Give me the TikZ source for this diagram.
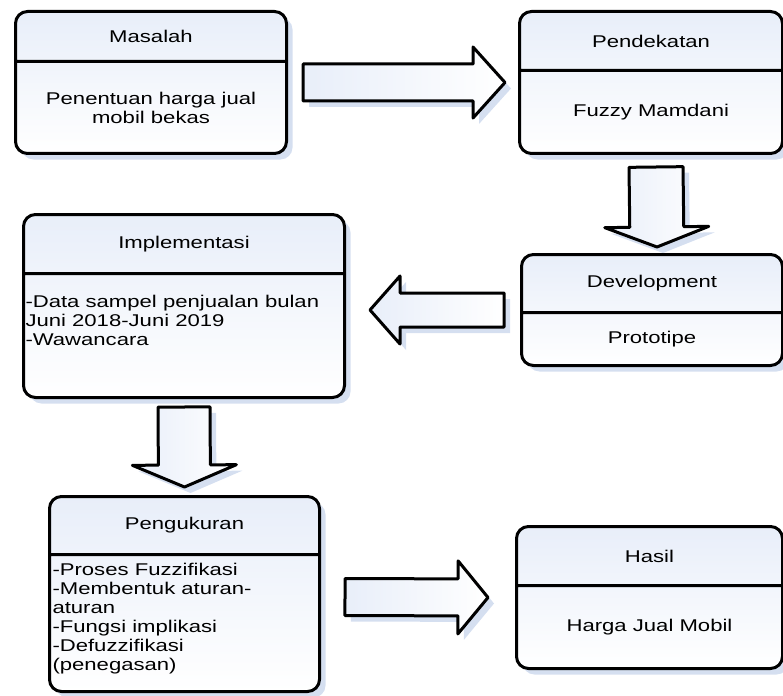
\documentclass[tikz,border=0pt]{standalone}
\usepackage{fontspec}
\setmainfont{Liberation Sans}[FakeStretch=1.3]
\usetikzlibrary{positioning,calc,shapes.multipart,shadows}
\definecolor{boxclr}{RGB}{232,238,249}
\definecolor{shdclr}{RGB}{213,223,240}
\tikzset{ %
  ,every node/.style={font=\fontsize{17}{19}\selectfont}
  ,box/.style={draw, rectangle split, rectangle split parts=2, rounded corners=12pt, inner sep=0pt, line width=3pt, top color=boxclr, bottom color=white, anchor=north west, drop shadow={shadow xshift=6pt, shadow yshift=-6pt, fill=shdclr, fill opacity=1}}
  ,blockarr/.style={draw, line width=3pt, line join=round, left color=boxclr, right color=white, drop shadow={shadow xshift=6pt, shadow yshift=-6pt, fill=shdclr, fill opacity=1}}
}
% width, head height, body height, head, body
\newcommand{\boxparts}[5]{\parbox[c][#2pt]{#1pt}{\centering #4\par}\nodepart{two}\parbox[c][#3pt]{#1pt}{#5}}
% tail, tip, half shaft, half head, head length
\newcommand{\blockarrow}[5]{%
  \coordinate (neck) at ($(#2)!#5!(#1)$);
  \draw[blockarr] ($(#1)!#3!90:(#2)$) -- ($(neck)!#3!90:(#2)$) -- ($(neck)!#4!90:(#2)$) -- (#2)
    -- ($(neck)!#4!-90:(#2)$) -- ($(neck)!#3!-90:(#2)$) -- ($(#1)!#3!-90:(#2)$) -- cycle;
}

\begin{document}
\begin{tikzpicture}[x=1pt, y=-1pt]
  \useasboundingbox (0,0) rectangle (783,695);
  \draw
  node[box] (masalah) at (14,10) {\boxparts{271}{47}{89}{Masalah}{\centering Penentuan harga jual\\mobil bekas\par}}
  node[box] (pendekatan) at (518,10) {\boxparts{263}{56}{80}{Pendekatan}{\centering Fuzzy Mamdani\par}}
  node[box] (development) at (520,253) {\boxparts{261}{55}{50}{Development}{\centering Prototipe\par}}
  node[box] (implementasi) at (22,213) {\boxparts{321}{56}{121}{Implementasi}{\raggedright\leftskip=2pt\vspace*{20pt}-Data sampel penjualan bulan\\Juni 2018-Juni 2019\\-Wawancara\par\vfill}}
  node[box] (pengukuran) at (48,495) {\boxparts{270}{55}{134}{Pengukuran}{\raggedright\leftskip=3pt\vspace*{7pt}-Proses Fuzzifikasi\\-Membentuk aturan-\\aturan\\-Fungsi implikasi\\-Defuzzifikasi\\(penegasan)\par\vfill}}
  node[box] (hasil) at (515,525) {\boxparts{266}{56}{80}{Hasil}{\centering Harga Jual Mobil\par}};

  \coordinate (a1s) at ($(masalah.east)+(15,0)$);
  \coordinate (a1e) at ($(pendekatan.west)+(-13,0)$);
  \coordinate (a2s) at ($(pendekatan.south)+(5,12)$);
  \coordinate (a2e) at ($(development.north)+(5,-6)$);
  \coordinate (a3s) at ($(development.west)+(-16,0)$);
  \coordinate (a3e) at ($(implementasi.east |- development.west)+(24,0)$);
  \coordinate (a4s) at ($(implementasi.south)+(0,8)$);
  \coordinate (a4e) at ($(pengukuran.north)+(0,-8)$);
  \coordinate (a5s) at ($(pengukuran.east)+(24,3)$);
  \coordinate (a5e) at ($(hasil.west)+(-27,0)$);

  \blockarrow{a1s}{a1e}{18.5pt}{35.5pt}{32pt}
  \blockarrow{a2s}{a2e}{27pt}{52pt}{20pt}
  \blockarrow{a3s}{a3e}{17pt}{34pt}{30pt}
  \blockarrow{a4s}{a4e}{26pt}{52pt}{22pt}
  \blockarrow{a5s}{a5e}{18.5pt}{36.5pt}{30pt}
\end{tikzpicture}
\end{document}
